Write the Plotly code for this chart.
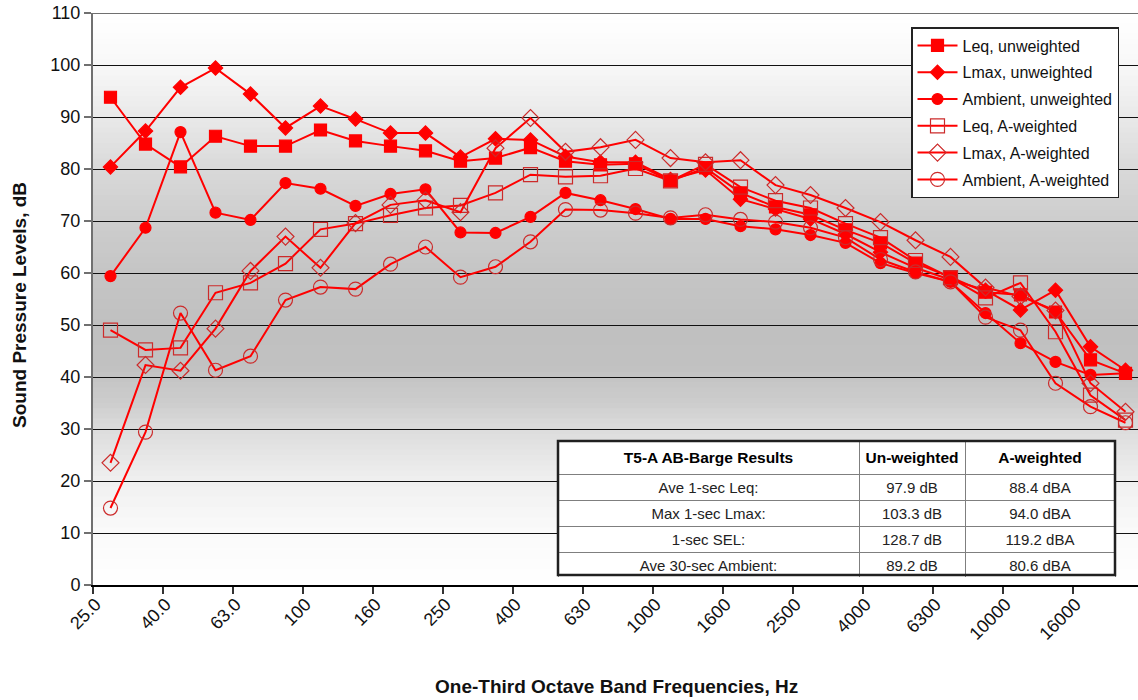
import numpy as np
import plotly.graph_objects as go

# ---------------- data ----------------
bands = ["25", "31.5", "40", "50", "63", "80", "100", "125", "160", "200", "250", "315",
         "400", "500", "630", "800", "1000", "1250", "1600", "2000", "2500", "3150",
         "4000", "5000", "6300", "8000", "10000", "12500", "16000", "20000"]
tick_labels = ["25.0", "40.0", "63.0", "100", "160", "250", "400", "630", "1000",
               "1600", "2500", "4000", "6300", "10000", "16000"]

leq_unw = [93.8, 84.8, 80.4, 86.3, 84.4, 84.4, 87.5, 85.4, 84.4, 83.5, 81.5, 82.1, 84.1, 81.5, 80.8,
           81.0, 77.7, 80.2, 75.4, 72.7, 71.2, 68.3, 65.8, 61.9, 59.2, 56.3, 55.8, 52.5, 43.3, 40.7]
lmax_unw = [80.4, 87.3, 95.7, 99.4, 94.4, 87.9, 92.1, 89.6, 86.9, 86.9, 82.3, 85.8, 85.6, 82.4, 81.3,
            81.3, 78.0, 79.8, 74.2, 72.3, 70.4, 67.5, 64.0, 61.0, 58.7, 56.7, 52.9, 56.7, 45.8, 41.3]
amb_unw = [59.4, 68.7, 87.1, 71.6, 70.2, 77.3, 76.2, 72.9, 75.2, 76.1, 67.8, 67.7, 70.8, 75.4, 74.0,
           72.3, 70.4, 70.4, 69.0, 68.4, 67.3, 65.8, 61.9, 60.0, 58.3, 52.3, 46.5, 42.9, 40.4, 40.7]
leq_a = [49.0, 45.2, 45.6, 56.2, 58.1, 61.8, 68.4, 69.5, 71.1, 72.5, 73.0, 75.4, 78.9, 78.5, 78.7,
         80.1, 77.7, 80.9, 76.5, 73.9, 72.5, 69.5, 66.8, 62.4, 59.1, 55.2, 58.1, 48.7, 36.5, 31.7]
lmax_a = [23.5, 42.3, 41.2, 49.3, 60.4, 67.0, 61.0, 69.6, 73.1, 74.0, 71.7, 84.0, 89.8, 83.3, 84.2,
          85.6, 82.1, 81.3, 81.7, 76.9, 75.0, 72.5, 69.8, 66.3, 63.1, 57.2, 55.5, 52.8, 38.8, 33.3]
amb_a = [14.8, 29.4, 52.3, 41.3, 44.0, 54.8, 57.3, 56.9, 61.7, 65.0, 59.2, 61.2, 66.0, 72.2, 72.1,
         71.5, 70.6, 71.2, 70.3, 69.8, 68.7, 66.8, 62.6, 60.2, 58.3, 51.5, 49.0, 38.8, 34.3, 31.2]

table_header = ["T5-A AB-Barge Results", "Un-weighted", "A-weighted"]
table_metrics = ["Ave 1-sec Leq:", "Max 1-sec Lmax:", "1-sec SEL:", "Ave 30-sec Ambient:"]
table_unweighted = ["97.9 dB", "103.3 dB", "128.7 dB", "89.2 dB"]
table_aweighted = ["88.4 dBA", "94.0 dBA", "119.2 dBA", "80.6 dBA"]

# ---------------- styling ----------------
FONT = "Arial, Liberation Sans, sans-serif"
RED = "#ff0000"
OPEN = "#cc2b2b"

x = list(range(len(bands)))

series = [
    ("Leq, unweighted", leq_unw, "square", 12, RED),
    ("Lmax, unweighted", lmax_unw, "diamond", 11, RED),
    ("Ambient, unweighted", amb_unw, "circle", 11, RED),
    ("Leq, A-weighted", leq_a, "square-open", 14, OPEN),
    ("Lmax, A-weighted", lmax_a, "diamond-open", 13, OPEN),
    ("Ambient, A-weighted", amb_a, "circle-open", 14, OPEN),
]

fig = go.Figure()

for i, (name, vals, sym, size, mcol) in enumerate(series):
    fig.add_trace(go.Scatter(
        x=x, y=vals, name=name, mode="lines+markers",
        customdata=bands,
        line=dict(color=RED, width=2),
        marker=dict(symbol=sym, size=size, color=mcol,
                    line=dict(width=1.2, color=mcol)),
        legendgroup=f"g{i}",
        hovertemplate="%{customdata} Hz: %{y} dB<extra>" + name + "</extra>",
    ))

# gradient background strips (overlapping to avoid seams)
stops_v = [0, 10, 20, 30, 35, 42, 50, 60, 70, 80, 90, 100, 110]
stops_g = [255, 250, 240, 220, 205, 193, 192, 197, 205, 217, 233, 248, 255]
shapes = []
step = 1.0
yv = 0.0
while yv < 110:
    g = int(round(np.interp(yv + step / 2, stops_v, stops_g)))
    shapes.append(dict(type="rect", xref="paper", yref="y", x0=0, x1=1, y0=yv,
                       y1=min(yv + step + 0.6, 110),
                       fillcolor=f"rgb({g},{g},{g})", line=dict(width=0), layer="below"))
    yv += step

# top border line
shapes.append(dict(type="line", xref="paper", yref="y", x0=0, x1=1, y0=110, y1=110,
                   line=dict(color="#707070", width=2), layer="above"))

# table
W, H = 1138, 700
ML, MR, MT, MB = 93, 0, 13, 115
pw, ph = W - ML - MR, H - MT - MB


def px2paper_x(px):
    return (px - ML) / pw


def px2paper_y(py):
    return (H - MB - py) / ph


tx0, tx1, ty0, ty1 = 558, 1115, 441, 575
fig.add_trace(go.Table(
    domain=dict(x=[px2paper_x(tx0), px2paper_x(tx1)],
                y=[px2paper_y(ty1 + 2), px2paper_y(ty0)]),
    columnwidth=[301, 106, 150],
    header=dict(values=[f"<b>{h}</b>" for h in table_header],
                fill_color="white", line=dict(color="#7f7f7f", width=1),
                align="center", height=30,
                font=dict(family=FONT, size=15.5, color="black")),
    cells=dict(values=[table_metrics, table_unweighted, table_aweighted],
               fill_color="white", line=dict(color="#7f7f7f", width=1),
               align="center", height=26,
               font=dict(family=FONT, size=15, color="#222")),
))
shapes.append(dict(type="rect", xref="paper", yref="paper",
                   x0=px2paper_x(tx0), x1=px2paper_x(tx1),
                   y0=px2paper_y(ty1), y1=px2paper_y(ty0),
                   line=dict(color="#202020", width=2.5), fillcolor="rgba(0,0,0,0)",
                   layer="above"))

tickpos = [-0.5 + 2 * k + 0.08 for k in range(len(tick_labels))]
boundaries = [-0.5 + 2 * k for k in range(len(tick_labels) + 1)]

fig.update_layout(
    width=W, height=H,
    margin=dict(l=ML, r=MR, t=MT, b=MB),
    paper_bgcolor="white", plot_bgcolor="white",
    font=dict(family=FONT, color="#111"),
    shapes=shapes,
    showlegend=True,
    legend=dict(x=px2paper_x(911), y=px2paper_y(27), xanchor="left", yanchor="top",
                bgcolor="white", bordercolor="#222", borderwidth=1.5,
                font=dict(family=FONT, size=16, color="#111"),
                traceorder="grouped", tracegroupgap=3, itemwidth=40),
    xaxis=dict(range=[-0.5, 29.5 - 5 / 35], tickmode="array", tickvals=tickpos,
               ticktext=tick_labels, tickangle=-45, ticks="",
               tickfont=dict(family=FONT, size=18, color="#111"),
               showgrid=False, zeroline=False, showline=True, linecolor="black", linewidth=1.5,
               minor=dict(tickmode="array", tickvals=boundaries, ticks="outside", ticklen=7,
                          tickcolor="#333", tickwidth=1.5, showgrid=False)),
    yaxis=dict(range=[0, 110], tickmode="linear", tick0=0, dtick=10,
               ticks="outside", ticklen=7, tickcolor="#707070", tickwidth=1.5,
               tickfont=dict(family=FONT, size=18, color="#111"),
               showgrid=True, gridcolor="#111", gridwidth=1,
               zeroline=False, showline=True, linecolor="#707070", linewidth=2),
    annotations=[
        dict(text="<b>One-Third Octave Band Frequencies, Hz</b>", xref="paper", yref="paper",
             x=px2paper_x(616), y=px2paper_y(686), xanchor="center", yanchor="middle",
             showarrow=False, font=dict(family=FONT, size=19, color="#111")),
        dict(text="<b>Sound Pressure Levels, dB</b>", xref="paper", yref="paper",
             x=px2paper_x(20), y=px2paper_y(305), xanchor="center", yanchor="middle",
             textangle=-90, showarrow=False, font=dict(family=FONT, size=19, color="#111")),
    ],
)

fig.write_html("out.html")
